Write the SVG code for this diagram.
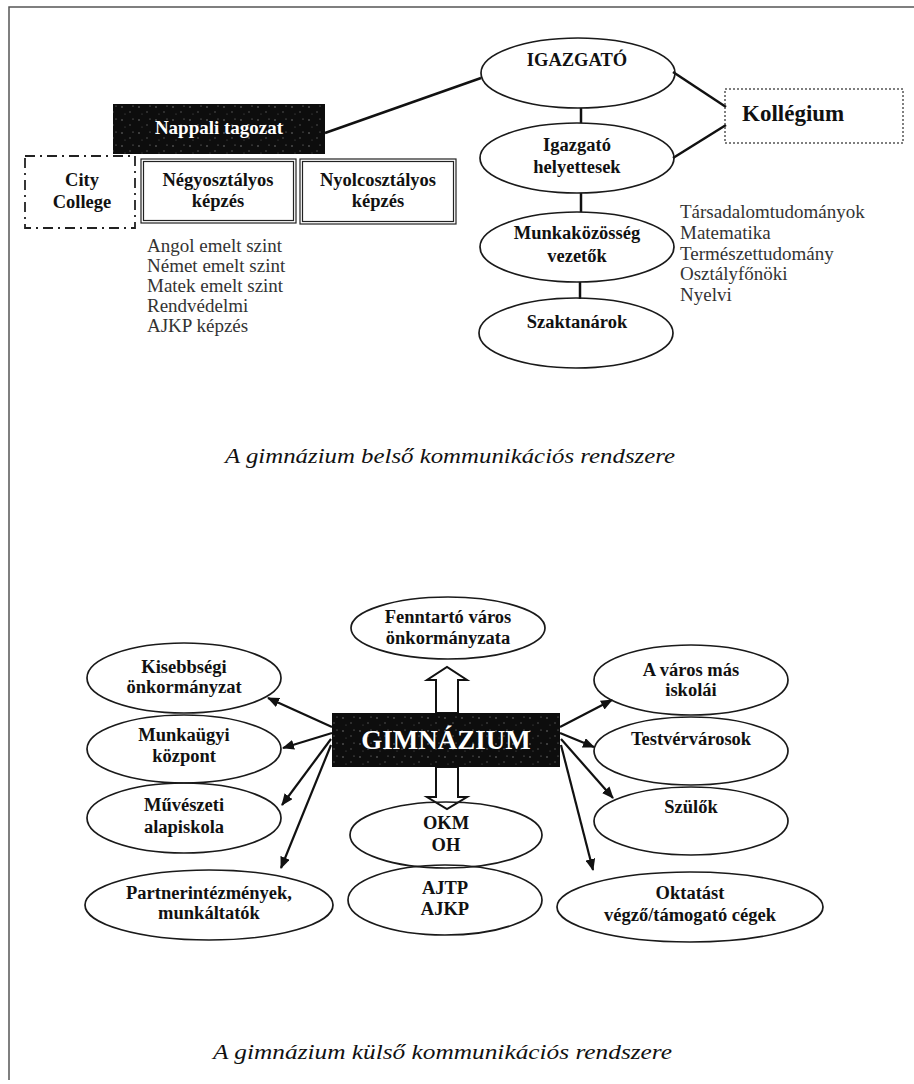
<svg xmlns="http://www.w3.org/2000/svg" width="914" height="1084" viewBox="0 0 914 1084">
<style>
.el{fill:none;stroke:#1a1a1a;stroke-width:1.7}
.t{font-family:"Liberation Serif","Times New Roman",serif;font-weight:bold;font-size:18.5px;fill:#111;text-anchor:middle}
.w{fill:#fff}
.lst{font-family:"Liberation Serif","Times New Roman",serif;font-size:19px;fill:#333}
.cap{font-family:"Liberation Serif","Times New Roman",serif;font-style:italic;font-size:22px;fill:#111}
.ln{stroke:#111;stroke-width:2.5;fill:none}
.ar{stroke:#111;stroke-width:2.2;fill:none;marker-end:url(#ah)}
.blk{fill:#fff;stroke:#111;stroke-width:2}
</style>
<defs>
<marker id="ah" markerWidth="12" markerHeight="10" refX="11" refY="5" orient="auto" markerUnits="userSpaceOnUse">
<path d="M0,0 L12,5 L0,10 Z" fill="#111"/>
</marker>
<pattern id="spk" width="17" height="13" patternUnits="userSpaceOnUse">
<rect width="17" height="13" fill="#0d0d0d"/>
<circle cx="3" cy="3" r="0.8" fill="#777"/>
<circle cx="11" cy="8" r="0.7" fill="#666"/>
<circle cx="14" cy="2" r="0.6" fill="#888"/>
<circle cx="6" cy="10" r="0.6" fill="#555"/>
</pattern>
</defs>
<rect width="914" height="1084" fill="#fff"/>
<path d="M916,7 H9 V1080" fill="none" stroke="#555" stroke-width="1.5"/>

<g id="connectors">
<line class="ln" x1="325" y1="133" x2="481" y2="78"/>
<line class="ln" x1="673" y1="72" x2="726" y2="107"/>
<line class="ln" x1="673" y1="158" x2="726" y2="125"/>
<line class="ln" x1="581" y1="108" x2="581" y2="123" stroke-width="3.5"/>
<line class="ln" x1="581" y1="193" x2="581" y2="212" stroke-width="3.5"/>
<line class="ln" x1="580" y1="282" x2="580" y2="299" stroke-width="3.5"/>
<line class="ar" x1="332" y1="727" x2="268" y2="698"/>
<line class="ar" x1="332" y1="733" x2="283" y2="748"/>
<line class="ar" x1="331" y1="739" x2="282" y2="805"/>
<line class="ar" x1="331" y1="745" x2="281" y2="868"/>
<line class="ar" x1="560" y1="727" x2="612" y2="700"/>
<line class="ar" x1="560" y1="733" x2="594" y2="747"/>
<line class="ar" x1="561" y1="739" x2="613" y2="798"/>
<line class="ar" x1="561" y1="745" x2="593" y2="870"/>
<polygon class="blk" points="436,713 436,680 427,680 447,667 467,680 458,680 458,713"/>
<polygon class="blk" points="436,767 436,797 427,797 447,809 467,797 458,797 458,767"/>
</g>

<g id="igazgato"><ellipse class="el" cx="578" cy="73" rx="97" ry="35"/><text class="t" x="577" y="66">IGAZGATÓ</text></g>
<g id="helyettesek"><ellipse class="el" cx="577" cy="158" rx="97" ry="35"/><text class="t" x="577" y="151">Igazgató</text><text class="t" x="577" y="173">helyettesek</text></g>
<g id="munkakozosseg"><ellipse class="el" cx="577" cy="247" rx="97" ry="35"/><text class="t" x="577" y="239">Munkaközösség</text><text class="t" x="577" y="262">vezetők</text></g>
<g id="szaktanarok"><ellipse class="el" cx="576" cy="333" rx="97" ry="35"/><text class="t" x="577" y="328">Szaktanárok</text></g>
<g id="kollegium"><rect x="725" y="89" width="178" height="54" fill="none" stroke="#555" stroke-width="1.5" stroke-dasharray="2,2"/><text class="t" x="742" y="121" style="font-size:23px;text-anchor:start">Kollégium</text></g>
<g id="nappali"><rect x="113" y="104" width="212" height="50" fill="url(#spk)"/><text class="t w" x="219" y="134" style="font-size:19px">Nappali tagozat</text></g>
<g id="citycollege"><rect x="25" y="156" width="110" height="72" fill="none" stroke="#222" stroke-width="1.8" stroke-dasharray="10,5,2,5"/><text class="t" x="82" y="186">City</text><text class="t" x="82" y="208">College</text></g>
<g id="negyosztalyos"><rect x="141" y="159" width="155" height="64" fill="none" stroke="#222" stroke-width="1.2"/><rect x="143.5" y="161.5" width="150" height="59" fill="none" stroke="#222" stroke-width="1.2"/><text class="t" x="218" y="186">Négyosztályos</text><text class="t" x="218" y="207">képzés</text></g>
<g id="nyolcosztalyos"><rect x="300" y="159" width="156" height="65" fill="none" stroke="#222" stroke-width="1.2"/><rect x="302.5" y="161.5" width="151" height="60" fill="none" stroke="#222" stroke-width="1.2"/><text class="t" x="378" y="186">Nyolcosztályos</text><text class="t" x="378" y="207">képzés</text></g>
<g id="lista-bal" class="lst">
<text x="147" y="252">Angol emelt szint</text>
<text x="147" y="272">Német emelt szint</text>
<text x="147" y="292">Matek emelt szint</text>
<text x="147" y="312">Rendvédelmi</text>
<text x="147" y="332">AJKP képzés</text>
</g>
<g id="lista-jobb" class="lst">
<text x="680" y="218">Társadalomtudományok</text>
<text x="680" y="239">Matematika</text>
<text x="680" y="260">Természettudomány</text>
<text x="680" y="280">Osztályfőnöki</text>
<text x="680" y="301">Nyelvi</text>
</g>
<text class="cap" x="225" y="463" textLength="450" lengthAdjust="spacingAndGlyphs">A gimnázium belső kommunikációs rendszere</text>

<g id="fenntarto"><ellipse class="el" cx="448" cy="628" rx="97" ry="31"/><text class="t" x="448" y="623">Fenntartó város</text><text class="t" x="448" y="644">önkormányzata</text></g>
<g id="gimnazium"><rect x="332" y="713" width="228" height="54" fill="url(#spk)"/><text class="t w" x="446" y="749" style="font-size:27px">GIMNÁZIUM</text></g>
<g id="kisebbsegi"><ellipse class="el" cx="184" cy="678" rx="97" ry="35"/><text class="t" x="184" y="673">Kisebbségi</text><text class="t" x="184" y="693">önkormányzat</text></g>
<g id="munkaugyi"><ellipse class="el" cx="184" cy="749" rx="97" ry="34"/><text class="t" x="184" y="741">Munkaügyi</text><text class="t" x="184" y="762">központ</text></g>
<g id="muveszeti"><ellipse class="el" cx="184" cy="818" rx="97" ry="35"/><text class="t" x="184" y="811">Művészeti</text><text class="t" x="184" y="833">alapiskola</text></g>
<g id="partner"><ellipse class="el" cx="209" cy="905" rx="124" ry="35"/><text class="t" x="209" y="899">Partnerintézmények,</text><text class="t" x="209" y="919">munkáltatók</text></g>
<g id="okm"><ellipse class="el" cx="446" cy="835" rx="96" ry="33"/><text class="t" x="446" y="829">OKM</text><text class="t" x="446" y="851">OH</text></g>
<g id="ajtp"><ellipse class="el" cx="445" cy="900" rx="97" ry="35"/><text class="t" x="445" y="894">AJTP</text><text class="t" x="445" y="915">AJKP</text></g>
<g id="varos-iskolai"><ellipse class="el" cx="691" cy="680" rx="97" ry="35"/><text class="t" x="691" y="676">A város más</text><text class="t" x="691" y="696">iskolái</text></g>
<g id="testvervarosok"><ellipse class="el" cx="691" cy="751" rx="97" ry="34"/><text class="t" x="691" y="745">Testvérvárosok</text></g>
<g id="szulok"><ellipse class="el" cx="691" cy="821" rx="97" ry="34"/><text class="t" x="691" y="813">Szülők</text></g>
<g id="oktatast"><ellipse class="el" cx="690" cy="907" rx="133" ry="35"/><text class="t" x="690" y="899">Oktatást</text><text class="t" x="690" y="921">végző/támogató cégek</text></g>
<text class="cap" x="213" y="1059" textLength="459" lengthAdjust="spacingAndGlyphs">A gimnázium külső kommunikációs rendszere</text>
</svg>
